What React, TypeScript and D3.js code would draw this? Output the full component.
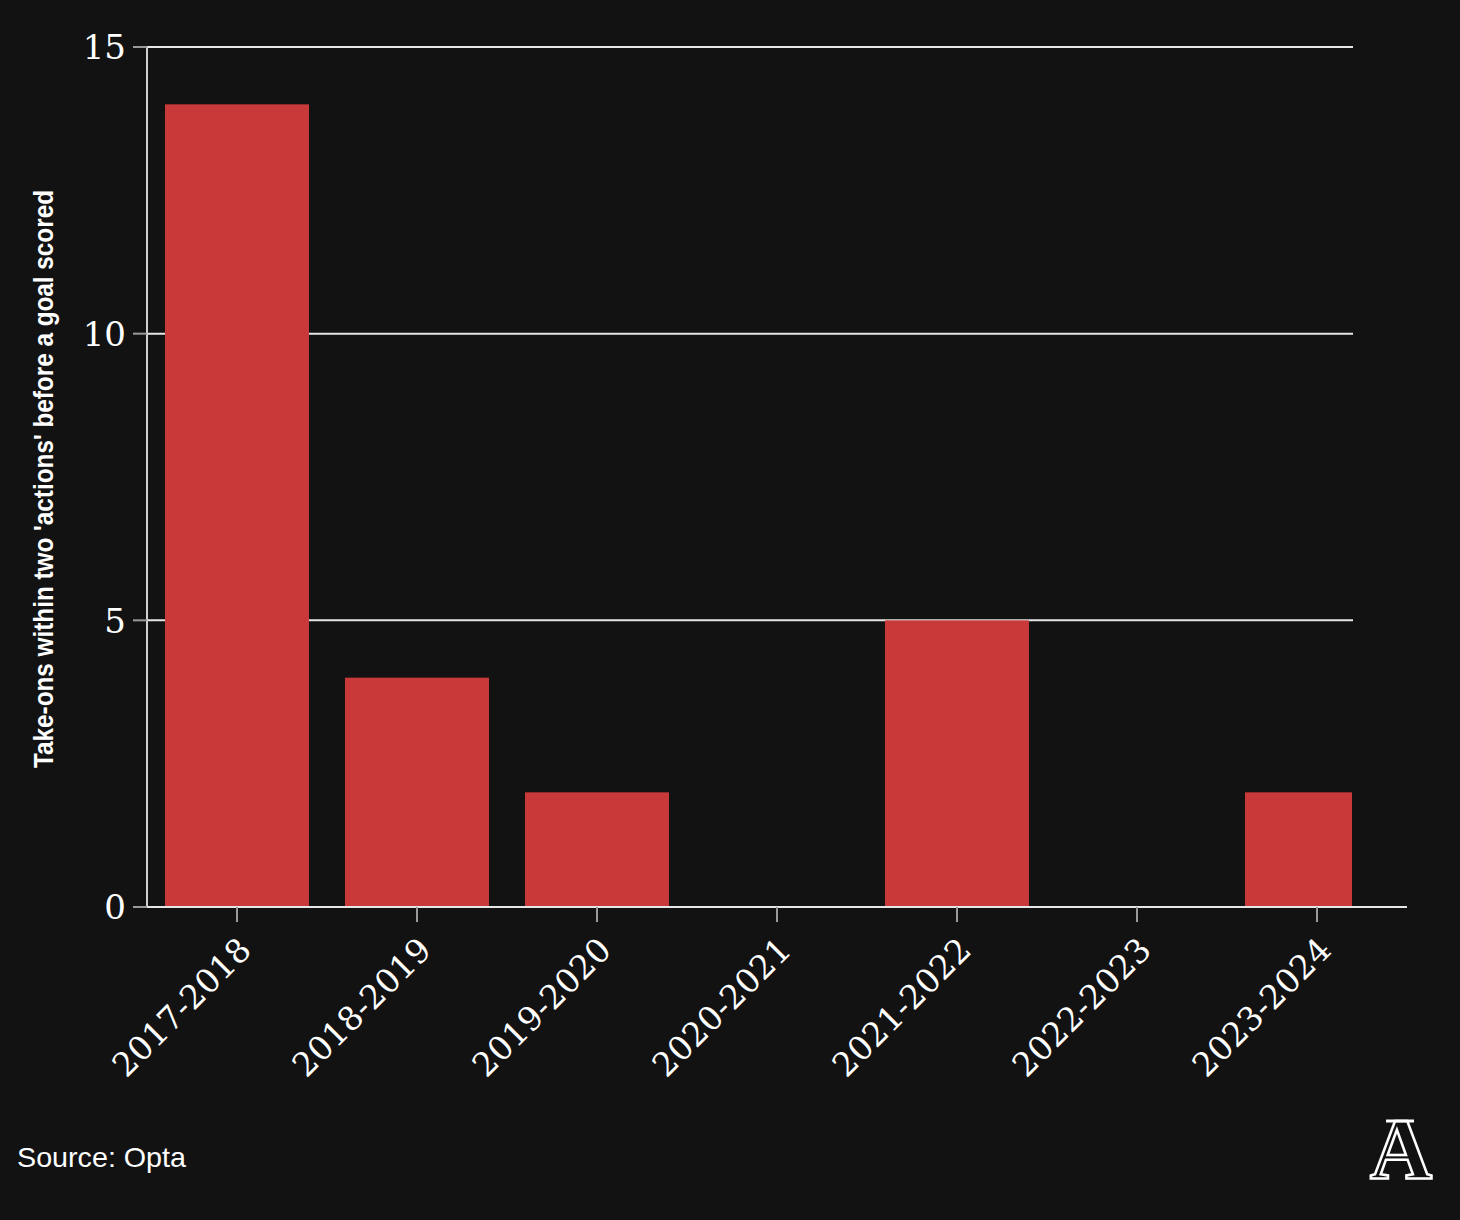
import React from "react";
import * as d3 from "d3";

const seasons = ["2017-2018", "2018-2019", "2019-2020", "2020-2021", "2021-2022", "2022-2023", "2023-2024"];
const takeOns = [14, 4, 2, 0, 5, 0, 2];
const yTicks = [0, 5, 10, 15];
const yLabel = "Take-ons within two 'actions' before a goal scored";
const sourceText = "Source: Opta";

const W = 1460;
const H = 1220;
const BG = "#121212";
const BAR = "#c9393a";

export default function App() {
  const left = 147;
  const axisRight = 1407;
  const gridRight = 1353;
  const top = 47;
  const bottom = 907;

  const x = d3.scaleBand<string>().domain(seasons).range([left, axisRight]).paddingInner(0.2).paddingOuter(0.1);
  const y = d3.scaleLinear().domain([0, 15]).range([bottom, top]);

  return (
    <svg width={W} height={H} style={{ position: "absolute", left: 0, top: 0, background: BG }}>
      <rect x={0} y={0} width={W} height={H} fill={BG} />
      <defs>
        <clipPath id="plotclip">
          <rect x={left} y={0} width={gridRight - 1 - left} height={bottom + 1} />
        </clipPath>
      </defs>
      {yTicks.filter((t) => t > 0).map((t) => (
        <line key={"g" + t} x1={left} x2={gridRight} y1={y(t)} y2={y(t)} stroke="#e6e6e6" strokeWidth={2} />
      ))}
      <g clipPath="url(#plotclip)">
        {seasons.map((s, i) => (
          <rect key={s} x={x(s)} y={y(takeOns[i])} width={x.bandwidth()} height={bottom - y(takeOns[i])} fill={BAR} />
        ))}
      </g>
      <line x1={left} x2={left} y1={top} y2={bottom} stroke="#cfcfcf" strokeWidth={2} />
      <line x1={left} x2={axisRight} y1={bottom} y2={bottom} stroke="#e6e6e6" strokeWidth={2} />
      {yTicks.map((t) => (
        <g key={"t" + t}>
          <line x1={left - 14} x2={left} y1={y(t)} y2={y(t)} stroke="#9a9a9a" strokeWidth={2} />
          <text x={left - 21} y={y(t)} dy="0.36em" textAnchor="end" fill="#fff" fontFamily="'DejaVu Serif', serif" fontSize={34}>
            {t}
          </text>
        </g>
      ))}
      {seasons.map((s) => {
        const cx = (x(s) as number) + x.bandwidth() / 2;
        return (
          <g key={"x" + s}>
            <line x1={cx} x2={cx} y1={bottom} y2={bottom + 15} stroke="#9a9a9a" strokeWidth={2} />
            <text
              transform={`translate(${cx + 16},${952}) rotate(-45)`}
              textAnchor="end"
              fill="#fff"
              fontFamily="'DejaVu Serif', serif"
              fontSize={33}
            >
              {s}
            </text>
          </g>
        );
      })}
      <text
        transform={`translate(53,479) rotate(-90)`}
        textAnchor="middle"
        fill="#fff"
        fontFamily="'Liberation Sans', sans-serif"
        fontWeight="bold"
        fontSize={27}
        textLength={578}
        lengthAdjust="spacingAndGlyphs"
      >
        {yLabel}
      </text>
      <text x={17} y={1167} fill="#fff" fontFamily="'Liberation Sans', sans-serif" fontSize={28} textLength={169} lengthAdjust="spacingAndGlyphs">
        {sourceText}
      </text>
      <g>
        <text x={1401} y={1178} textAnchor="middle" fill="none" stroke="#fff" strokeWidth={2.5} fontFamily="'Liberation Serif', serif" fontWeight="bold" fontSize={86}>
          A
        </text>
        <line x1={1386} x2={1414} y1={1121} y2={1121} stroke="#fff" strokeWidth={3} />
      </g>
    </svg>
  );
}
